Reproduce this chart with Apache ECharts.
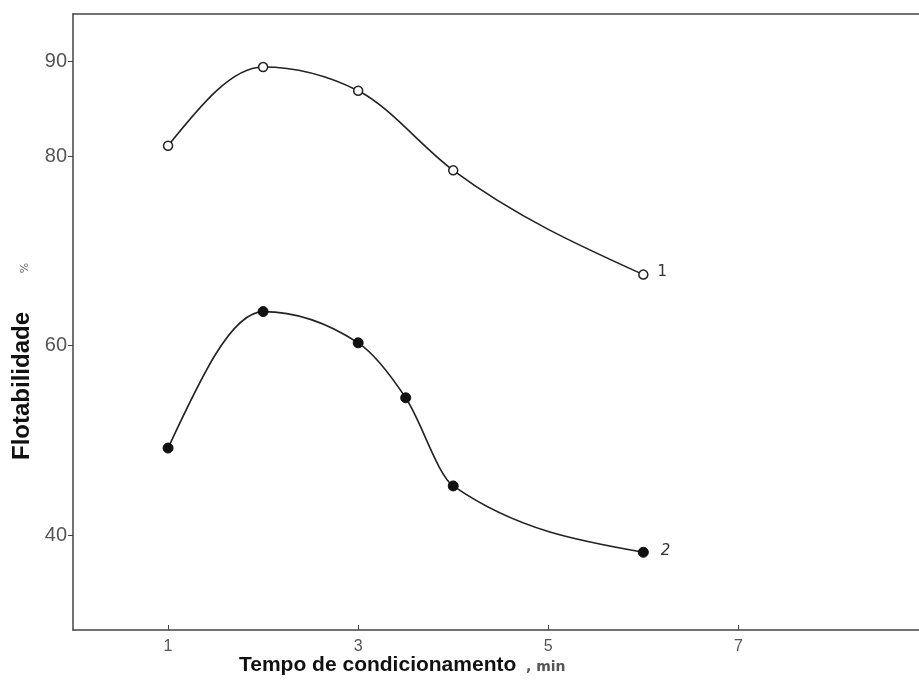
<!DOCTYPE html>
<html>
<head>
<meta charset="utf-8">
<script src="https://cdn.jsdelivr.net/npm/echarts@6/dist/echarts.min.js"></script>
<style>html,body{margin:0;padding:0;background:#fff;}#c{width:919px;height:680px;}</style>
</head>
<body>
<div id="c"></div>
<script>
// Curve 1 (open circles)
const timeS1 = [1, 2, 3, 4, 6];
const flotS1 = [81.1, 89.4, 86.9, 78.5, 67.5];
// Curve 2 (filled circles)
const timeS2 = [1, 2, 3, 3.5, 4, 6];
const flotS2 = [49.2, 63.6, 60.3, 54.5, 45.2, 38.2];
// Tick labels
const xTicks = [1, 3, 5, 7];
const yTicks = [40, 60, 80, 90];
const seriesNames = ['1', '2'];

// monotone cubic (Fritsch–Carlson style) slopes at the knots
function monoSlopes(xs, ys) {
  const n = xs.length, t = new Array(n).fill(0);
  for (let i = 1; i < n - 1; i++) {
    const h0 = xs[i] - xs[i - 1], h1 = xs[i + 1] - xs[i];
    const s0 = (ys[i] - ys[i - 1]) / h0, s1 = (ys[i + 1] - ys[i]) / h1;
    const p = (s0 * h1 + s1 * h0) / (h0 + h1);
    t[i] = (Math.sign(s0) + Math.sign(s1)) * Math.min(Math.abs(s0), Math.abs(s1), 0.5 * Math.abs(p)) || 0;
  }
  const hA = xs[1] - xs[0];
  t[0] = (3 * (ys[1] - ys[0]) / hA - t[1]) / 2;
  const hB = xs[n - 1] - xs[n - 2];
  t[n - 1] = (3 * (ys[n - 1] - ys[n - 2]) / hB - t[n - 2]) / 2;
  return t;
}

function curveSeries(xs, ys) {
  const d = monoSlopes(xs, ys);
  return {
    type: 'custom', z: 2, silent: true,
    data: xs.map((x, i) => [x, ys[i]]),
    encode: { x: 0, y: 1 },
    renderItem: function (params, api) {
      if (params.dataIndex !== 0) return null;
      const p0 = api.coord([xs[0], ys[0]]);
      let path = 'M' + p0[0] + ' ' + p0[1];
      for (let i = 0; i < xs.length - 1; i++) {
        const hh = xs[i + 1] - xs[i];
        const c1 = api.coord([xs[i] + hh / 3, ys[i] + d[i] * hh / 3]);
        const c2 = api.coord([xs[i + 1] - hh / 3, ys[i + 1] - d[i + 1] * hh / 3]);
        const p1 = api.coord([xs[i + 1], ys[i + 1]]);
        path += ' C' + c1[0] + ' ' + c1[1] + ' ' + c2[0] + ' ' + c2[1] + ' ' + p1[0] + ' ' + p1[1];
      }
      return { type: 'path', shape: { pathData: path }, style: { stroke: '#222', lineWidth: 1.6, fill: 'none' } };
    }
  };
}

function buildData(xs, ys, name) {
  return xs.map((x, i) => {
    const item = { value: [x, ys[i]] };
    if (i === xs.length - 1) item.label = { show: true, formatter: name };
    return item;
  });
}

const axisColor = '#444';
const chart = echarts.init(document.getElementById('c'));
chart.setOption({
  animation: false,
  backgroundColor: '#fff',
  grid: { left: 73, top: 14, right: 0, bottom: 50 },
  xAxis: [{
    type: 'value', min: 0, max: 8.9,
    axisLine: { show: true, onZero: false, lineStyle: { color: axisColor, width: 1.5 } },
    axisTick: { show: true, inside: true, length: 5, customValues: xTicks, lineStyle: { color: axisColor } },
    axisLabel: { customValues: xTicks, color: '#555', fontSize: 16, fontFamily: 'Liberation Sans', margin: 9 },
    splitLine: { show: false }
  }, {
    type: 'value', min: 0, max: 8.9, position: 'top',
    axisLine: { show: true, onZero: false, lineStyle: { color: axisColor, width: 1.5 } },
    axisTick: { show: false }, axisLabel: { show: false }, splitLine: { show: false }
  }],
  yAxis: {
    type: 'value', min: 30, max: 95,
    axisLine: { show: true, onZero: false, lineStyle: { color: axisColor, width: 1.5 } },
    axisTick: { show: true, length: 5, customValues: yTicks, lineStyle: { color: axisColor } },
    axisLabel: { customValues: yTicks, color: '#555', fontSize: 20, fontFamily: 'Liberation Sans', margin: 6 },
    splitLine: { show: false }
  },
  title: {
    text: '{a|Tempo de condicionamento}{b|  , min}',
    left: 234, top: 650,
    textStyle: {
      rich: {
        a: { fontFamily: 'Liberation Sans', fontWeight: 'bold', fontSize: 21, color: '#111' },
        b: { fontFamily: 'DejaVu Sans', fontSize: 14, color: '#555', padding: [4, 0, 0, 0] }
      }
    }
  },
  graphic: [
    { type: 'text', x: 22, y: 386, rotation: Math.PI / 2,
      style: { text: 'Flotabilidade', font: 'bold 24px "Liberation Sans"', fill: '#111', align: 'center', verticalAlign: 'middle' } },
    { type: 'text', x: 25, y: 268, rotation: Math.PI / 2,
      style: { text: '%', font: '11px "DejaVu Sans"', fill: '#666', align: 'center', verticalAlign: 'middle' } }
  ],
  series: [
    curveSeries(timeS1, flotS1),
    curveSeries(timeS2, flotS2),
    {
      name: seriesNames[0], type: 'scatter', z: 3,
      data: buildData(timeS1, flotS1, seriesNames[0]),
      symbol: 'circle', symbolSize: 9,
      itemStyle: { color: '#fff', borderColor: '#222', borderWidth: 1.5, opacity: 1 },
      label: { show: false, position: 'right', distance: 9, offset: [0, -3], color: '#333', fontSize: 15, fontFamily: 'DejaVu Sans' }
    },
    {
      name: seriesNames[1], type: 'scatter', z: 3,
      data: buildData(timeS2, flotS2, seriesNames[1]),
      symbol: 'circle', symbolSize: 10,
      itemStyle: { color: '#111', borderColor: '#111', borderWidth: 1, opacity: 1 },
      label: { show: false, position: 'right', distance: 12, offset: [0, -1], color: '#333', fontSize: 15, fontStyle: 'italic', fontFamily: 'DejaVu Sans' }
    }
  ]
});
</script>
</body>
</html>
